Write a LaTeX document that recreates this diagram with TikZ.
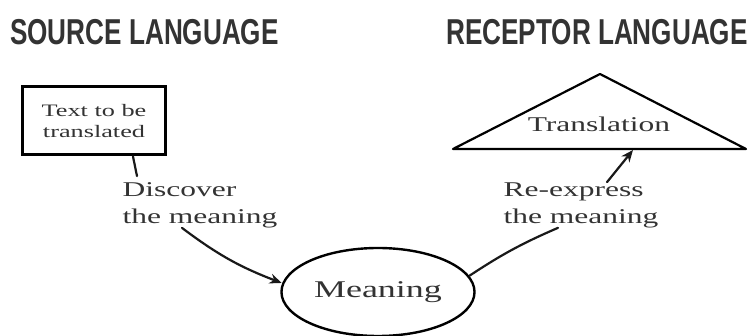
\documentclass[tikz,border=0pt]{standalone}
\usepackage{fontspec}
\setmainfont{Liberation Serif}
\setsansfont{Liberation Sans}
\usetikzlibrary{arrows.meta,shapes.geometric}

\tikzset{
  heading/.style={font=\sffamily\bfseries\fontsize{36}{40}\selectfont, text=black!80, xscale=0.726, inner sep=0pt, anchor=base west},
  serifnote/.style={text=black!80, xscale=1.5, inner sep=0pt, align=left},
  handline/.style={line width=2.2pt, black!90, line cap=round},
  handarrow/.style={handline, -{Stealth[length=12pt,width=10pt]}},
}

\begin{document}
\begin{tikzpicture}[x=1pt,y=-1pt]
  \useasboundingbox (0,0) rectangle (748,336);

  % Headings
  \node[heading] (srclang) at (10,45) {SOURCE LANGUAGE};
  \node[heading] (reclang) at (446,45) {RECEPTOR LANGUAGE};

  % Box with the text to be translated
  \node[serifnote, align=center, draw=black, line width=3pt, minimum width=94.7pt, minimum height=68pt,
        font=\fontsize{17.5}{21}\selectfont] (source) at (94,121) {Text to be\\translated};

  % Ellipse with the meaning
  \node[serifnote, ellipse, draw=black, line width=2.4pt, minimum width=128.7pt, minimum height=88pt,
        font=\fontsize{24}{28}\selectfont] (meaning) at (378,292) {Meaning};

  % Labels on the two steps
  \node[serifnote, font=\fontsize{21}{27}\selectfont] (discover) at (200,205) {Discover\\the meaning};
  \node[serifnote, font=\fontsize{21}{27}\selectfont] (reexpress) at (581,205) {Re-express\\the meaning};

  % Triangle with the translation
  \node[serifnote, font=\fontsize{21}{25}\selectfont] (translation) at (599,124) {Translation};
  \coordinate (apex) at (600,74);
  \coordinate (baseleft) at (453,149);
  \coordinate (baseright) at (746,149);
  \coordinate (basehit) at (633,150);
  \draw[line width=2.2pt, line join=round] (apex) -- (baseright) -- (baseleft) -- cycle;

  % Discover the meaning
  \draw[handline] ([xshift=39pt]source.south) -- ([xshift=-63pt,yshift=6pt]discover.north);
  \draw[handarrow] ([xshift=-18pt]discover.south) to[bend right=8] (meaning.172);

  % Re-express the meaning
  \draw[handline] (meaning.15) to[bend left=5] ([xshift=-23pt]reexpress.south);
  \draw[handarrow] ([xshift=26pt]reexpress.north) -- (basehit);
\end{tikzpicture}
\end{document}
